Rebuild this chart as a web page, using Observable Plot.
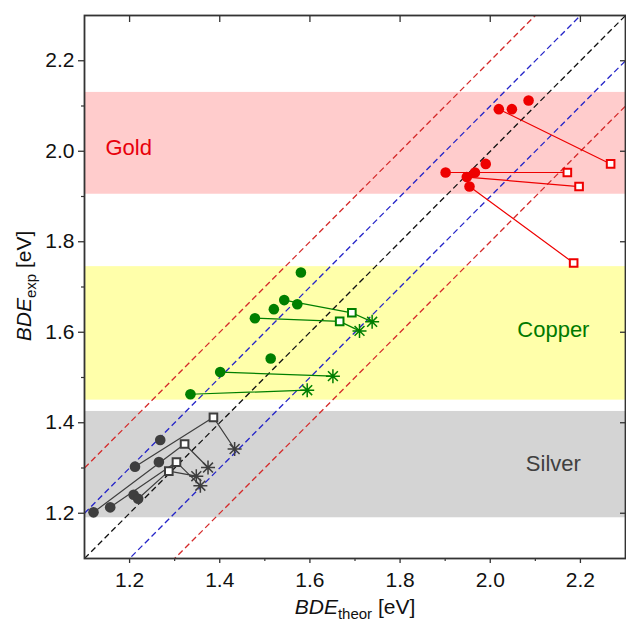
<!DOCTYPE html>
<html><head><meta charset="utf-8">
<script src="https://cdn.jsdelivr.net/npm/d3@7"></script>
<script src="https://cdn.jsdelivr.net/npm/@observablehq/plot@0.6"></script>
<style>body{margin:0;background:#fff} svg{display:block}</style>
</head><body><div id="chart"></div>
<script>
// ---- axes ----
const xDomain = [1.1, 2.3];
const yDomain = [1.1, 2.3];
const xMajor = [1.2, 1.4, 1.6, 1.8, 2.0, 2.2];
const yMajor = [1.2, 1.4, 1.6, 1.8, 2.0, 2.2];
const xMinor = [1.3, 1.5, 1.7, 1.9, 2.1];
const yMinor = [1.3, 1.5, 1.7, 1.9, 2.1];

// ---- bands ----
const bandNames = ["Gold", "Copper", "Silver"];
const bandLow = [1.905, 1.45, 1.19];
const bandHigh = [2.13, 1.745, 1.425];
const bandFill = ["#ffcccc", "#ffffaa", "#d4d4d4"];
const labelX = [1.198, 2.14, 2.14];
const labelY = [2.008, 1.604, 1.308];
const labelColor = ["#e8000b", "#007a00", "#404040"];

// ---- diagonal reference lines y = x + offset ----
const diagOffsets = [-0.2, -0.1, 0, 0.1, 0.2];
const diagColors = ["#d42a2a", "#2424c8", "#111111", "#2424c8", "#d42a2a"];

// ---- Gold ----
const goldCircles = [[2.019,2.093],[2.048,2.093],[2.085,2.112],[1.990,1.972],[1.901,1.953],[1.966,1.953],[1.948,1.943],[1.954,1.922]];
const goldSquares = [[2.267,1.972],[2.171,1.953],[2.197,1.922],[2.185,1.753]];
const goldStars = [];
const goldPaths = [["c0","s0"],["c4","s1"],["c6","s2"],["c7","s3"]];

// ---- Copper ----
const copperCircles = [[1.580,1.732],[1.543,1.671],[1.520,1.651],[1.572,1.662],[1.478,1.631],[1.513,1.542],[1.401,1.512],[1.335,1.463]];
const copperSquares = [[1.693,1.643],[1.666,1.624]];
const copperStars = [[1.738,1.623],[1.710,1.603],[1.651,1.503],[1.594,1.472]];
const copperPaths = [["c1","s0","t0"],["c4","s1","t1"],["c6","t2"],["c7","t3"]];

// ---- Silver ----
const silverCircles = [[1.120,1.202],[1.157,1.213],[1.209,1.241],[1.219,1.232],[1.212,1.303],[1.265,1.313],[1.268,1.362]];
const silverSquares = [[1.386,1.412],[1.322,1.353],[1.304,1.313],[1.287,1.293]];
const silverStars = [[1.433,1.342],[1.374,1.301],[1.348,1.282],[1.357,1.261]];
const silverPaths = [["c4","s0","t0"],["c0","s1","t1"],["c1","s2","t3"],["c3","s3","t2"]];

const seriesColor = {Gold: "#ee0000", Copper: "#007f00", Silver: "#3e3e3e"};

// ---- build tables ----
const groups = [
  {name: "Gold", c: goldCircles, s: goldSquares, t: goldStars, paths: goldPaths},
  {name: "Copper", c: copperCircles, s: copperSquares, t: copperStars, paths: copperPaths},
  {name: "Silver", c: silverCircles, s: silverSquares, t: silverStars, paths: silverPaths}
];
const circles = [], squares = [], stars = [], lineRows = [];
groups.forEach(g => {
  const col = seriesColor[g.name];
  g.c.forEach(([x, y]) => circles.push({x, y, col}));
  g.s.forEach(([x, y]) => squares.push({x, y, col}));
  g.t.forEach(([x, y]) => stars.push({x, y, col}));
  g.paths.forEach((p, i) => p.forEach(code => {
    const arr = g[code[0]];
    const [x, y] = arr[+code.slice(1)];
    lineRows.push({x, y, col, id: g.name + i});
  }));
});
const bands = bandNames.map((n, i) => ({n, lo: bandLow[i], hi: bandHigh[i], fill: bandFill[i]}));
const labels = bandNames.map((n, i) => ({n, x: labelX[i], y: labelY[i], col: labelColor[i]}));
const diags = diagOffsets.map((o, i) => ({x1: xDomain[0], x2: xDomain[1], y1: xDomain[0] + o, y2: xDomain[1] + o, col: diagColors[i]}));

const star8 = {draw(ctx, size) {
  const r = Math.sqrt(size / Math.PI), d = r / Math.SQRT2;
  ctx.moveTo(-r, 0); ctx.lineTo(r, 0);
  ctx.moveTo(0, -r); ctx.lineTo(0, r);
  ctx.moveTo(-d, -d); ctx.lineTo(d, d);
  ctx.moveTo(-d, d); ctx.lineTo(d, -d);
}};

const AX = "#333333";
const fmt = d3.format(".1f");
const blank = () => "";

const chart = Plot.plot({
  width: 626, height: 626,
  marginLeft: 84, marginRight: 1, marginTop: 15, marginBottom: 68,
  style: {fontFamily: "'Liberation Sans', Arial, sans-serif", background: "#fff"},
  x: {domain: xDomain, range: [84, 625]},
  y: {domain: yDomain, range: [558, 15]},
  color: {type: "identity"},
  marks: [
    Plot.rect(bands, {y1: "lo", y2: "hi", fill: "fill"}),
    Plot.link(diags, {x1: "x1", y1: "y1", x2: "x2", y2: "y2", stroke: "col", strokeWidth: 1.3, strokeDasharray: "6,3.5", clip: true}),
    Plot.line(lineRows, {x: "x", y: "y", z: "id", stroke: "col", strokeWidth: 1.2}),
    Plot.dot(circles, {x: "x", y: "y", r: 5.3, fill: "col", stroke: "none"}),
    Plot.dot(squares, {x: "x", y: "y", r: 4.3, symbol: "square", fill: "white", stroke: "col", strokeWidth: 2}),
    Plot.dot(stars, {x: "x", y: "y", r: 7, symbol: star8, fill: "none", stroke: "col", strokeWidth: 1.5}),
    Plot.text(labels, {x: "x", y: "y", text: "n", fill: "col", fontSize: 22}),
    Plot.axisX({ticks: xMajor, tickSize: 5, tickPadding: 9, tickFormat: fmt, fontSize: 21, label: null, stroke: AX, color: "#111", strokeWidth: 1.3}),
    Plot.axisX({ticks: xMinor, tickSize: 3, tickFormat: blank, label: null, stroke: AX, strokeWidth: 1.2}),
    Plot.axisY({ticks: yMajor, tickSize: 6, tickPadding: 4, tickFormat: fmt, fontSize: 21, label: null, stroke: AX, color: "#111", strokeWidth: 1.3}),
    Plot.axisY({ticks: yMinor, tickSize: 3, tickFormat: blank, label: null, stroke: AX, strokeWidth: 1.2}),
    Plot.axisX({anchor: "top", ticks: xMajor, tickSize: 6, dy: 6, tickFormat: blank, label: null, stroke: AX, strokeWidth: 1.3}),
    Plot.axisY({anchor: "right", ticks: yMajor, tickSize: 6, dx: -6, tickFormat: blank, label: null, stroke: AX, strokeWidth: 1.3}),
    Plot.frame({stroke: AX, strokeWidth: 1.8})
  ]
});

const svg = d3.select(chart);
// x title
const xt = svg.append("text").attr("x", 355).attr("y", 614).attr("text-anchor", "middle")
  .attr("font-size", 21).attr("fill", "#111").attr("font-family", "'Liberation Sans', Arial, sans-serif");
xt.append("tspan").attr("font-style", "italic").text("BDE");
xt.append("tspan").attr("font-size", 15).attr("dy", 5).text("theor");
xt.append("tspan").attr("dy", -5).text(" [eV]");
// y title
const yt = svg.append("text").attr("transform", "translate(31,286) rotate(-90)").attr("text-anchor", "middle")
  .attr("font-size", 21).attr("fill", "#111").attr("font-family", "'Liberation Sans', Arial, sans-serif");
yt.append("tspan").attr("font-style", "italic").text("BDE");
yt.append("tspan").attr("font-size", 15).attr("dy", 5).text("exp");
yt.append("tspan").attr("dy", -5).text(" [eV]");

document.getElementById("chart").appendChild(chart);
</script>
</body></html>
